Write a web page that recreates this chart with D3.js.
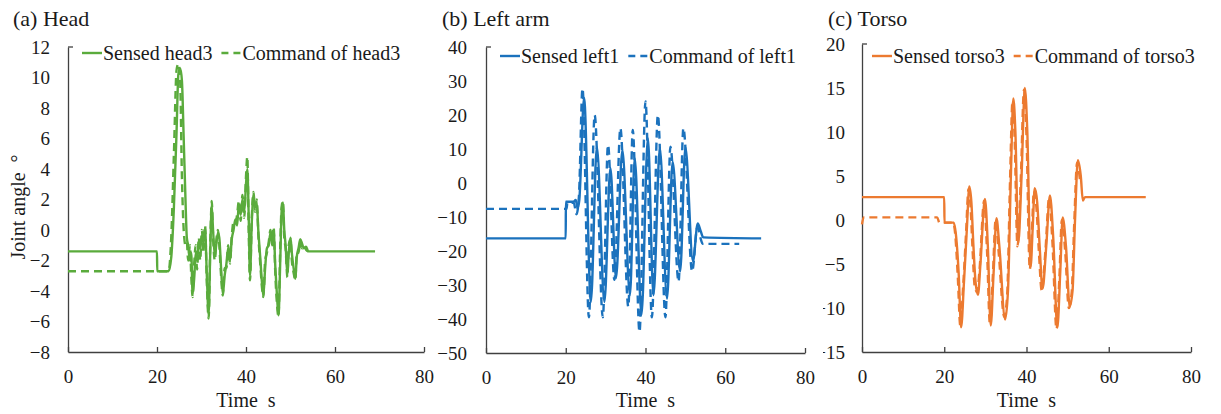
<!DOCTYPE html>
<html>
<head>
<meta charset="utf-8">
<script src="https://cdn.jsdelivr.net/npm/d3@7"></script>
<style>
body { margin: 0; background: #fff; }
svg text { font-family: "Liberation Serif", "Times New Roman", Times, serif; fill: #1a1a1a; white-space: pre; }
.axis path, .axis line { stroke: #404040; stroke-width: 1.3; }
.axis text { font-size: 19px; }
</style>
</head>
<body>
<svg width="1221" height="414"></svg>
<script>
//x ticks shared by all panels
var timeTicks = [0, 20, 40, 60, 80];

//(a) head
var headTicks = [-8, -6, -4, -2, 0, 2, 4, 6, 8, 10, 12];
var headNames = ["Sensed head3", "Command of head3"];
var headSensedT = [0, 20, 20.05, 22.6, 23.2, 23.8, 24.4, 24.8, 25.2, 25.6, 26.0, 26.4, 26.7, 27.0, 27.4, 27.7, 28.0, 28.4, 28.7, 29.0, 29.4, 29.7, 30.1, 30.4, 30.8, 31.2, 31.6, 32.0, 32.3, 32.6, 33.0, 33.3, 33.7, 34.0, 34.4, 34.8, 35.2, 35.6, 36.0, 36.4, 36.8, 37.2, 37.6, 38.0, 38.4, 38.8, 39.2, 39.6, 40.0, 40.3, 40.6, 40.9, 41.3, 41.7, 42.0, 42.4, 42.8, 43.2, 43.6, 43.9, 44.3, 44.7, 45.1, 45.5, 45.9, 46.2, 46.6, 47.0, 47.3, 47.7, 48.0, 48.3, 48.6, 48.9, 49.3, 49.6, 50.0, 50.3, 50.7, 51.1, 51.4, 51.8, 52.2, 52.6, 53.0, 53.5, 54.0, 69];
var headSensedV = [-1.4, -1.4, -2.7, -2.7, -1.8, 1.5, 6.5, 10.2, 10.6, 9.8, 6.0, 2.0, -0.5, -1.0, -2.0, -1.5, -4.2, -3.0, -1.5, -2.0, -0.8, -1.2, -0.4, -0.8, 0.1, -3.0, -5.5, -1.0, 1.6, 0.0, -1.7, -1.0, -0.2, -0.5, -2.5, -4.2, -3.0, -2.2, -1.2, -2.0, -0.6, 0.0, 0.7, 0.3, 1.7, 1.0, 2.0, 1.2, 3.0, 4.0, 1.0, -3.0, 0.5, 2.3, 1.5, 1.8, -0.2, -1.8, -3.5, -4.3, -2.5, -1.2, -1.0, -0.2, -0.8, 0.0, -2.5, -4.5, -5.6, -2.0, 1.2, 1.8, 0.0, -1.0, -2.9, -1.5, -0.5, -1.5, -2.5, -3.2, -1.8, -1.2, -0.6, -0.9, -1.2, -1.1, -1.4, -1.4];
var headCmdT = [0, 22.6, 23.2, 23.8, 24.4, 24.8, 25.2, 25.6, 26.0, 26.4, 26.7, 27.0, 27.4, 27.7, 28.0, 28.4, 28.7, 29.0, 29.4, 29.7, 30.1, 30.4, 30.8, 31.2, 31.6, 32.0, 32.3, 32.6, 33.0, 33.3, 33.7, 34.0, 34.4, 34.8, 35.2, 35.6, 36.0, 36.4, 36.8, 37.2, 37.6, 38.0, 38.4, 38.8, 39.2, 39.6, 40.0, 40.3, 40.6, 40.9, 41.3, 41.7, 42.0, 42.4, 42.8, 43.2, 43.6, 43.9, 44.3, 44.7, 45.1, 45.5, 45.9, 46.2, 46.6, 47.0, 47.3, 47.7, 48.0, 48.3, 48.6, 48.9, 49.3, 49.6, 50.0, 50.3, 50.7, 51.1, 51.4, 51.8, 52.2, 52.6, 53.0, 53.5, 54.0];
var headCmdV = [-2.7, -2.7, -0.5, 5.0, 10.5, 10.9, 9.8, 3.5, 0.0, -1.0, -0.8, -2.0, -1.0, -3.0, -4.4, -2.0, -1.0, -2.6, -0.5, -2.0, 0.0, -1.5, 0.3, -3.5, -5.8, -0.5, 1.9, -0.5, -2.0, -0.8, 0.0, -1.0, -3.0, -4.3, -2.5, -2.5, -1.0, -2.2, -0.4, 0.5, 0.4, 1.0, 1.9, 0.6, 2.3, 0.8, 3.5, 4.8, 0.0, -3.3, 0.8, 2.5, 1.2, 2.0, -0.5, -2.2, -3.8, -4.4, -2.0, -1.5, -0.8, 0.0, -1.0, 0.2, -3.0, -5.0, -5.7, -1.0, 1.5, 1.9, -0.5, -1.2, -3.1, -1.0, -0.6, -2.0, -2.8, -3.3, -1.5, -1.5, -0.7, -1.2, -1.0, -1.3, -1.4];

//(b) left arm
var leftTicks = [-50, -40, -30, -20, -10, 0, 10, 20, 30, 40];
var leftNames = ["Sensed left1", "Command of left1"];
var leftSensedT = [0, 20, 20.02, 22.0, 22.5, 23.0, 23.4, 24.6, 26.3, 27.8, 29.7, 31.2, 32.6, 34.2, 36.1, 37.3, 39.0, 40.6, 42.0, 43.6, 45.4, 46.8, 48.7, 50.0, 51.9, 53.1, 53.8, 54.5, 69];
var leftSensedV = [-16.3, -16.3, -5.5, -5.5, -5.0, -7.5, -5.0, 25, -35, 10.7, -35, 4.4, -28, 9.7, -33, 7.3, -38.8, 13.2, -33, 10.2, -34, 6.3, -26, 10.5, -23, -11.9, -14, -16, -16.3];
var leftCmdT = [0, 20.2, 20.4, 22.0, 22.7, 23.3, 24.2, 25.8, 27.25, 29.3, 30.6, 32.2, 33.7, 35.7, 36.8, 38.5, 40.0, 41.6, 43.1, 45.0, 46.25, 48.3, 49.5, 51.7, 53.0, 54.0, 54.3, 63.5];
var leftCmdV = [-7.6, -7.6, -5.8, -5.8, -9.2, -4, 27.8, -39.5, 20, -39.5, 11.2, -28.5, 16.1, -36.4, 15.6, -43.8, 24, -39.5, 20, -39.5, 10.7, -29, 16.1, -26, -13, -17, -17.9, -17.9];

//(c) torso
var torsoTicks = [-15, -10, -5, 0, 5, 10, 15, 20];
var torsoNames = ["Sensed torso3", "Command of torso3"];
var torsoSensedT = [0, 20.0, 20.05, 22.3, 22.8, 23.5, 24.1, 24.8, 25.5, 26.1, 26.6, 27.1, 27.6, 28.2, 28.8, 29.9, 30.6, 31.3, 32.0, 32.7, 33.4, 34.8, 35.5, 36.2, 36.8, 37.3, 38.0, 38.8, 39.6, 40.2, 41.0, 41.5, 42.0, 42.6, 43.2, 43.9, 44.8, 45.7, 46.5, 47.5, 48.2, 48.8, 49.6, 50.5, 51.2, 51.8, 52.5, 53.2, 53.7, 54.2, 69];
var torsoSensedV = [2.6, 2.6, -0.3, -0.3, -1.5, -6, -12.2, -7, -1, 3.8, 2, -3, -7, -8.5, -5, 2.4, -3, -12, -6, 0.2, -3, -11.3, -8, 5, 13.8, 10, -2.6, 5, 15, 10, -5.3, -1, 3.6, 2, -3, -7.8, -3, 2.8, -2, -12.2, -6, 0.3, -3, -9.8, -8, 0, 6.8, 5, 2.2, 2.6, 2.6];
var torsoCmdT = [0, 0.4, 0.8, 18.3, 18.8, 22.2, 22.7, 23.3, 23.9, 24.6, 25.3, 25.9, 26.4, 26.9, 27.4, 28.0, 28.6, 29.7, 30.4, 31.1, 31.8, 32.5, 33.2, 34.6, 35.3, 36.0, 36.6, 37.1, 37.8, 38.6, 39.4, 40.0, 40.8, 41.3, 41.8, 42.4, 43.0, 43.7, 44.6, 45.5, 46.3, 47.3, 48.0, 48.6, 49.4, 50.3, 51.0, 51.6, 52.3, 53.0];
var torsoCmdV = [-0.5, 0.3, 0.3, 0.3, -0.3, -0.3, -1.8, -6.5, -12, -7.5, -1.5, 3.5, 1.5, -3.5, -7.5, -8.2, -5.5, 2.2, -3.5, -11.8, -6.5, 0, -3.5, -11, -8.5, 4.5, 13.5, 9.5, -3, 4.5, 14.8, 9.5, -5.6, -1.5, 3.3, 1.5, -3.5, -8, -3.5, 2.5, -2.5, -12.4, -6.5, 0, -3.5, -10, -8.2, -0.5, 6.5, 4.5];

//panel layout
var panels = [
    { title: "(a) Head", titleX: 13, x: [68, 424], y: [352, 47], ticks: headTicks, color: "#5aab3c",
      gap: 18, legendX: 82, legendY: 53, names: headNames,
      sensed: d3.zip(headSensedT, headSensedV), command: d3.zip(headCmdT, headCmdV) },
    { title: "(b) Left arm", titleX: 442, x: [486, 805], y: [353, 47], ticks: leftTicks, color: "#1b72bd",
      gap: 19, legendX: 500, legendY: 56, names: leftNames,
      sensed: d3.zip(leftSensedT, leftSensedV), command: d3.zip(leftCmdT, leftCmdV) },
    { title: "(c) Torso", titleX: 828, x: [862, 1191], y: [352, 44], ticks: torsoTicks, color: "#ec7a30",
      gap: 17, legendX: 872, legendY: 56, names: torsoNames, clipLeft: 823,
      sensed: d3.zip(torsoSensedT, torsoSensedV), command: d3.zip(torsoCmdT, torsoCmdV) }
];

var svg = d3.select("svg");
var dash = "8,5";

panels.forEach(function (p, i) {
    var g = svg.append("g");
    if (p.clipLeft) {
        svg.append("clipPath").attr("id", "clip" + i)
            .append("rect").attr("x", p.clipLeft).attr("y", 0).attr("width", 1221 - p.clipLeft).attr("height", 414);
        g.attr("clip-path", "url(#clip" + i + ")");
    }

    var scaleX = d3.scaleLinear().domain([0, 80]).range(p.x);
    var scaleY = d3.scaleLinear().domain(d3.extent(p.ticks)).range(p.y);

    //title
    g.append("text")
        .attr("x", p.titleX)
        .attr("y", 26)
        .style("font-size", "22px")
        .text(p.title);

    //axes
    g.append("g")
        .attr("class", "axis")
        .attr("transform", "translate(0," + p.y[0] + ")")
        .call(d3.axisBottom(scaleX).tickValues(timeTicks).tickSizeInner(-5).tickSizeOuter(0).tickPadding(17.5));
    g.append("g")
        .attr("class", "axis")
        .attr("transform", "translate(" + p.x[0] + ",0)")
        .call(d3.axisLeft(scaleY).tickValues(p.ticks).tickSize(0).tickPadding(p.gap));
    //small tick at top of y axis
    g.append("line")
        .attr("x1", p.x[0]).attr("x2", p.x[0] + 5)
        .attr("y1", p.y[1]).attr("y2", p.y[1])
        .attr("stroke", "#404040").attr("stroke-width", 1.3);

    //axis title
    g.append("text")
        .attr("x", (p.x[0] + p.x[1]) / 2)
        .attr("y", 407)
        .attr("text-anchor", "middle")
        .style("font-size", "20px")
        .text("Time  s");

    //lines
    var line = d3.line()
        .x(d => scaleX(d[0]))
        .y(d => scaleY(d[1]))
        .curve(d3.curveMonotoneX);
    g.append("path")
        .attr("d", line(p.sensed))
        .attr("fill", "none")
        .attr("stroke", p.color)
        .attr("stroke-width", 2.4);
    g.append("path")
        .attr("d", line(p.command))
        .attr("fill", "none")
        .attr("stroke", p.color)
        .attr("stroke-width", 2.4)
        .attr("stroke-dasharray", dash);

    //legend
    var lx = p.legendX;
    g.append("line")
        .attr("x1", lx).attr("x2", lx + 20)
        .attr("y1", p.legendY).attr("y2", p.legendY)
        .attr("stroke", p.color).attr("stroke-width", 2.4);
    var t1 = g.append("text")
        .attr("x", lx + 21)
        .attr("y", p.legendY + 7)
        .style("font-size", "20px")
        .text(p.names[0]);
    lx = lx + 21 + t1.node().getComputedTextLength() + 9;
    g.append("line")
        .attr("x1", lx).attr("x2", lx + 20)
        .attr("y1", p.legendY).attr("y2", p.legendY)
        .attr("stroke", p.color).attr("stroke-width", 2.4)
        .attr("stroke-dasharray", "7,5");
    g.append("text")
        .attr("x", lx + 21)
        .attr("y", p.legendY + 7)
        .style("font-size", "20px")
        .text(p.names[1]);
});

//y axis title
svg.append("text")
    .attr("transform", "translate(25,207) rotate(-90)")
    .attr("text-anchor", "middle")
    .style("font-size", "20px")
    .text("Joint angle  °");
</script>
</body>
</html>
